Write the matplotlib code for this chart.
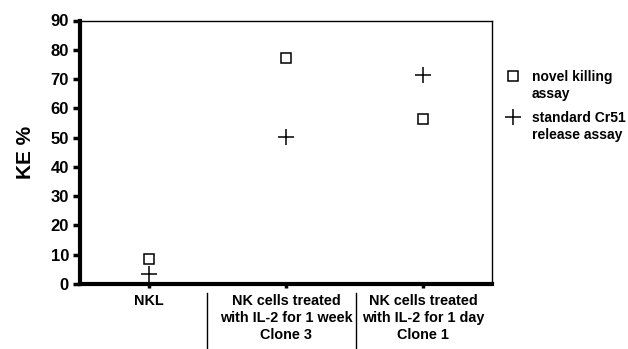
import matplotlib
matplotlib.use("Agg")
import matplotlib.pyplot as plt
from matplotlib.lines import Line2D

plt.rcParams['font.family'] = ['Liberation Sans', 'DejaVu Sans']
plt.rcParams['font.weight'] = 'bold'

categories = ["NKL",
              "NK cells treated\nwith IL-2 for 1 week\nClone 3",
              "NK cells treated\nwith IL-2 for 1 day\nClone 1"]
novel_killing = [8.5, 77.2, 56.2]
cr51_release = [3.5, 50.3, 71.3]
yticks = [0, 10, 20, 30, 40, 50, 60, 70, 80, 90]
legend_labels = ["novel killing\nassay", "standard Cr51\nrelease assay"]

fig = plt.figure(figsize=(6.28, 3.49), dpi=100)
W, H = 628, 349
ax = fig.add_axes([80 / W, 1 - 284 / H, 412 / W, (284 - 20.5) / H])

x = list(range(len(categories)))
sq_style = dict(linestyle='none', marker='s', markersize=7.5,
                markerfacecolor='white', markeredgecolor='black', markeredgewidth=1.1)
plus_style = dict(linestyle='none', marker='+', markersize=11,
                  markeredgecolor='black', markeredgewidth=1.1)
ax.plot(x, novel_killing, clip_on=False, zorder=5, **sq_style)
ax.plot(x, cr51_release, clip_on=False, zorder=5, **plus_style)

ax.set_xlim(-0.5, 2.5)
ax.set_ylim(0, 90)
ax.set_yticks(yticks)
ax.set_yticklabels([str(v) for v in yticks], fontsize=12, fontweight='bold')
ax.set_xticks(x)
ax.set_xticklabels(["", "", ""])

ax.spines['left'].set_linewidth(3)
ax.spines['bottom'].set_linewidth(3)
ax.spines['top'].set_linewidth(1)
ax.spines['right'].set_linewidth(1)
ax.tick_params(axis='y', direction='out', length=5, width=2.5, pad=3)
ax.tick_params(axis='x', direction='out', length=3, width=2.5)

ax.set_ylabel("KE %", fontsize=15, fontweight='bold', labelpad=11)

# category labels
for xi, lab in zip(x, categories):
    ax.text(xi, -0.038, lab, transform=ax.get_xaxis_transform(), ha='center',
            va='top', fontsize=10.4, fontweight='bold', linespacing=1.28)

# separators between category labels
for sx in [0.425, 1.507]:
    ax.add_line(Line2D([sx, sx], [-0.034, -0.26], transform=ax.get_xaxis_transform(),
                       color='black', linewidth=1, clip_on=False))

# legend (drawn manually: marker aligned with first text line)
leg_rows = [(76, sq_style), (117, plus_style)]
for (yc, st), lab in zip(leg_rows, legend_labels):
    fig.add_artist(Line2D([513 / W], [1 - yc / H], transform=fig.transFigure, **st))
    fig.text(532 / W, 1 - (yc - 5.5) / H, lab, ha='left', va='top', fontsize=10,
             fontweight='bold', linespacing=1.27)

fig.savefig("out.png", dpi=100)
